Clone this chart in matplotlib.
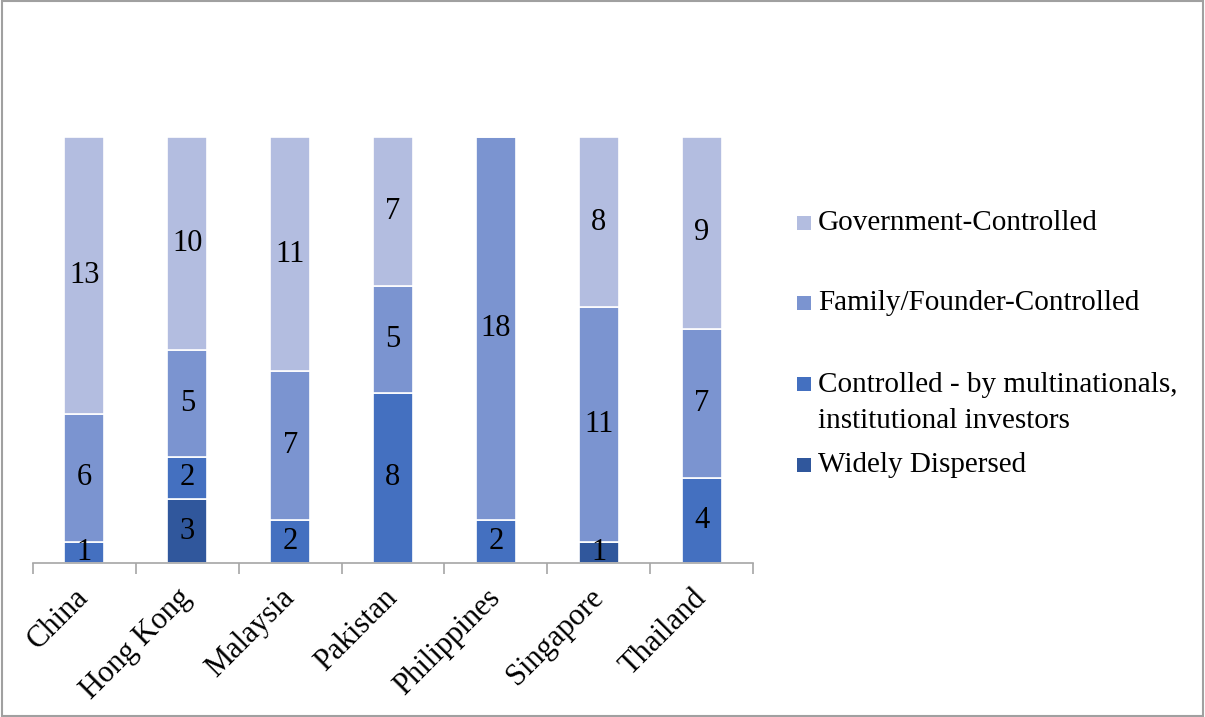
import matplotlib
matplotlib.use('Agg')
import matplotlib.pyplot as plt
import numpy as np
from matplotlib.patches import Rectangle

countries = ['China', 'Hong Kong', 'Malaysia', 'Pakistan', 'Philippines', 'Singapore', 'Thailand']
widely_dispersed = [0, 3, 0, 0, 0, 1, 0]
multinational = [1, 2, 2, 8, 2, 0, 4]
family = [6, 5, 7, 5, 18, 11, 7]
government = [13, 10, 11, 7, 0, 8, 9]

series_names = ['Widely Dispersed',
                'Controlled - by multinationals,\ninstitutional investors',
                'Family/Founder-Controlled',
                'Government-Controlled']
series = [widely_dispersed, multinational, family, government]
colors = ['#30579c', '#4470c0', '#7b94d0', '#b3bde0']

plt.rcParams['font.family'] = ['Liberation Serif', 'DejaVu Serif']
FS = 21
W, H = 1205, 717

fig = plt.figure(figsize=(W / 100, H / 100), dpi=100)
ax = fig.add_axes([33 / W, 1 - 563 / H, 720 / W, 426 / H])

x = np.arange(len(countries))
bottom = np.zeros(len(countries))
for name, vals, c in zip(series_names, series, colors):
    vals = np.array(vals, dtype=float)
    ax.bar(x, vals, 0.39, bottom=bottom, color=c, edgecolor='white', linewidth=1.2, label=name)
    for xi, b, v in zip(x, bottom, vals):
        if v > 0:
            ax.text(xi, b + v / 2, f'{int(v)}', ha='center', va='center', fontsize=FS + 1, color='black')
    bottom += vals

ax.set_xlim(-0.5, len(countries) - 0.5)
ax.set_ylim(0, 20)
for s in ['top', 'right', 'left']:
    ax.spines[s].set_visible(False)
ax.spines['bottom'].set_color('#a6a6a6')
ax.spines['bottom'].set_linewidth(1.2)
ax.set_yticks([])

ax.set_xticks(x)
ax.set_xticklabels(countries, rotation=45, ha='right', va='center', rotation_mode='anchor', fontsize=FS + 1)
ax.tick_params(axis='x', which='major', length=0, pad=22)
ax.set_xticks(np.arange(-0.5, len(countries)), minor=True)
ax.tick_params(axis='x', which='minor', length=8, width=1.2, color='#a6a6a6', direction='out')

# legend drawn by hand, top entry first (y = centre of first text line, px)
leg_y = [223, 303, 384, 465]
for name, c, y in zip(series_names[::-1], colors[::-1], leg_y):
    fig.patches.append(Rectangle((797 / W, 1 - (y + 7) / H), 14 / W, 14 / H,
                                 transform=fig.transFigure, facecolor=c, edgecolor='none'))
    if '\n' in name:
        fig.text(818 / W, 1 - (y - 12) / H, name, ha='left', va='top', fontsize=FS, linespacing=1.5)
    else:
        fig.text(818 / W, 1 - y / H, name, ha='left', va='center', fontsize=FS)

fig.patches.append(Rectangle((0.002, 0.002), 0.996, 0.996, transform=fig.transFigure,
                             facecolor='none', edgecolor='#a0a0a0', linewidth=1.5))

fig.savefig('out.png', dpi=100)
